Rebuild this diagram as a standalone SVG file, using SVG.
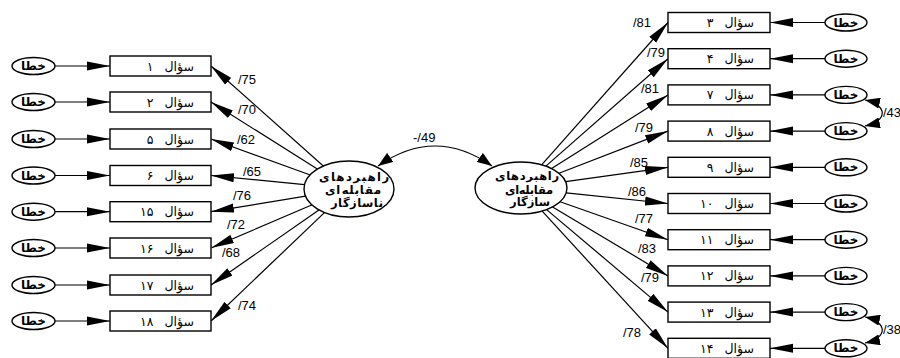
<svg xmlns="http://www.w3.org/2000/svg" width="900" height="358" viewBox="0 0 900 358">
<style>
.box{fill:#fff;stroke:#000;stroke-width:1.4}
.el{fill:#fff;stroke:#000;stroke-width:1.4}
.ln{fill:none;stroke:#000;stroke-width:1.2}
.q{font-family:"DejaVu Sans",sans-serif;font-size:12.5px;fill:#000;word-spacing:7px}
.e{font-family:"DejaVu Sans",sans-serif;font-size:12px;font-weight:bold;fill:#000}
.lt{font-family:"DejaVu Sans",sans-serif;font-size:11.5px;font-weight:bold;fill:#000;text-anchor:middle}
.n{font-family:"Liberation Sans",Arial,sans-serif;font-size:13px;fill:#000}
</style>
<defs>
<marker id="a" markerUnits="userSpaceOnUse" markerWidth="23" markerHeight="10" viewBox="0 0 23 9" refX="23" refY="4.5" orient="auto"><path d="M0,0 L23,4.5 L0,9 z" fill="#000"/></marker>
<marker id="s" markerUnits="userSpaceOnUse" markerWidth="15" markerHeight="11" viewBox="0 0 15 11" refX="15" refY="5.5" orient="auto-start-reverse"><path d="M0,0 L15,5.5 L0,11 z" fill="#000"/></marker>
</defs>

<g id="connectors">
<path class="ln" marker-end="url(#a)" d="M55,66 H110"/>
<path class="ln" marker-end="url(#a)" d="M55,102 H110"/>
<path class="ln" marker-end="url(#a)" d="M55,139 H110"/>
<path class="ln" marker-end="url(#a)" d="M55,175.5 H110"/>
<path class="ln" marker-end="url(#a)" d="M55,211.7 H110"/>
<path class="ln" marker-end="url(#a)" d="M55,248 H110"/>
<path class="ln" marker-end="url(#a)" d="M55,285 H110"/>
<path class="ln" marker-end="url(#a)" d="M55,321 H110"/>
<path class="ln" marker-end="url(#a)" d="M323.6,166.2 L211,66"/>
<path class="ln" marker-end="url(#a)" d="M317.7,169.2 L211,102"/>
<path class="ln" marker-end="url(#a)" d="M310.3,175 L211,139"/>
<path class="ln" marker-end="url(#a)" d="M304.6,184.6 L211,175.5"/>
<path class="ln" marker-end="url(#a)" d="M305.6,196.1 L211,211.7"/>
<path class="ln" marker-end="url(#a)" d="M312.2,204.8 L211,248"/>
<path class="ln" marker-end="url(#a)" d="M319.3,209.8 L211,285"/>
<path class="ln" marker-end="url(#a)" d="M324.7,212.4 L211,321"/>
<path class="ln" marker-end="url(#a)" d="M541.6,164.8 L668,22.5"/>
<path class="ln" marker-end="url(#a)" d="M545.9,166.1 L668,58.7"/>
<path class="ln" marker-end="url(#a)" d="M551.6,168.6 L668,94.9"/>
<path class="ln" marker-end="url(#a)" d="M559,173.3 L668,131.1"/>
<path class="ln" marker-end="url(#a)" d="M565.6,181.7 L668,167.3"/>
<path class="ln" marker-end="url(#a)" d="M566.2,192.8 L668,203.5"/>
<path class="ln" marker-end="url(#a)" d="M560.1,201.7 L668,239.7"/>
<path class="ln" marker-end="url(#a)" d="M552.6,206.9 L668,275.9"/>
<path class="ln" marker-end="url(#a)" d="M546.6,209.6 L668,312.1"/>
<path class="ln" marker-end="url(#a)" d="M542.2,211.1 L668,348.3"/>
<path class="ln" marker-end="url(#a)" d="M825,22.5 H770"/>
<path class="ln" marker-end="url(#a)" d="M825,58.7 H770"/>
<path class="ln" marker-end="url(#a)" d="M825,94.9 H770"/>
<path class="ln" marker-end="url(#a)" d="M825,131.1 H770"/>
<path class="ln" marker-end="url(#a)" d="M825,167.3 H770"/>
<path class="ln" marker-end="url(#a)" d="M825,203.5 H770"/>
<path class="ln" marker-end="url(#a)" d="M825,239.7 H770"/>
<path class="ln" marker-end="url(#a)" d="M825,275.9 H770"/>
<path class="ln" marker-end="url(#a)" d="M825,312.1 H770"/>
<path class="ln" marker-end="url(#a)" d="M825,348.3 H770"/>
<path class="ln" marker-start="url(#s)" marker-end="url(#s)" d="M378,166 Q435,126 492,166"/>
<path class="ln" marker-start="url(#s)" marker-end="url(#s)" d="M865,100 C888,105 888,121 865,126"/>
<path class="ln" marker-start="url(#s)" marker-end="url(#s)" d="M865,317 C888,322 888,338 865,343"/>
<text class="n" x="238" y="84">/75</text>
<text class="n" x="238" y="114">/70</text>
<text class="n" x="237" y="144">/62</text>
<text class="n" x="243" y="176">/65</text>
<text class="n" x="233" y="200">/76</text>
<text class="n" x="227" y="229">/72</text>
<text class="n" x="222" y="257">/68</text>
<text class="n" x="238" y="310">/74</text>
<text class="n" x="633" y="27">/81</text>
<text class="n" x="647" y="57">/79</text>
<text class="n" x="641" y="93">/81</text>
<text class="n" x="635" y="132">/79</text>
<text class="n" x="630" y="167">/85</text>
<text class="n" x="628" y="196">/86</text>
<text class="n" x="635" y="223">/77</text>
<text class="n" x="638" y="253">/83</text>
<text class="n" x="641" y="282">/79</text>
<text class="n" x="623" y="337">/78</text>
<text class="n" x="413" y="142">-/49</text>
<text class="n" x="883" y="117">/43</text>
<text class="n" x="883" y="334">/38</text>
</g>

<g id="latent-left"><ellipse class="el" cx="349" cy="189" rx="45" ry="28"/>
<text class="lt" x="354" y="180.5" textLength="70" lengthAdjust="spacing">راهبردهای</text><text class="lt" x="353" y="194" textLength="56" lengthAdjust="spacing">مقابله‌ای</text><text class="lt" x="357" y="206.5" textLength="52" lengthAdjust="spacing">ناسازگار</text></g>
<g id="latent-right"><ellipse class="el" cx="521" cy="188" rx="46" ry="26"/>
<text class="lt" x="527" y="180" textLength="64" lengthAdjust="spacing">راهبردهای</text><text class="lt" x="529" y="193.5" textLength="48" lengthAdjust="spacing">مقابله‌ای</text><text class="lt" x="530" y="206" textLength="40" lengthAdjust="spacing">سازگار</text></g>

<g id="q1"><rect class="box" x="110" y="56" width="101" height="20"/><text class="q" x="194" y="70.5" direction="rtl">سؤال ۱</text></g>
<g id="q2"><rect class="box" x="110" y="92" width="101" height="20"/><text class="q" x="194" y="106.5" direction="rtl">سؤال ۲</text></g>
<g id="q5"><rect class="box" x="110" y="129" width="101" height="20"/><text class="q" x="194" y="143.5" direction="rtl">سؤال ۵</text></g>
<g id="q6"><rect class="box" x="110" y="165.5" width="101" height="20"/><text class="q" x="194" y="180" direction="rtl">سؤال ۶</text></g>
<g id="q15"><rect class="box" x="110" y="201.7" width="101" height="20"/><text class="q" x="194" y="216.2" direction="rtl">سؤال ۱۵</text></g>
<g id="q16"><rect class="box" x="110" y="238" width="101" height="20"/><text class="q" x="194" y="252.5" direction="rtl">سؤال ۱۶</text></g>
<g id="q17"><rect class="box" x="110" y="275" width="101" height="20"/><text class="q" x="194" y="289.5" direction="rtl">سؤال ۱۷</text></g>
<g id="q18"><rect class="box" x="110" y="311" width="101" height="20"/><text class="q" x="194" y="325.5" direction="rtl">سؤال ۱۸</text></g>

<g id="q3"><rect class="box" x="668" y="12.5" width="102" height="20"/><text class="q" x="754" y="27" direction="rtl">سؤال ۳</text></g>
<g id="q4"><rect class="box" x="668" y="48.7" width="102" height="20"/><text class="q" x="754" y="63.2" direction="rtl">سؤال ۴</text></g>
<g id="q7"><rect class="box" x="668" y="84.9" width="102" height="20"/><text class="q" x="754" y="99.4" direction="rtl">سؤال ۷</text></g>
<g id="q8"><rect class="box" x="668" y="121.1" width="102" height="20"/><text class="q" x="754" y="135.6" direction="rtl">سؤال ۸</text></g>
<g id="q9"><rect class="box" x="668" y="157.3" width="102" height="20"/><text class="q" x="754" y="171.8" direction="rtl">سؤال ۹</text></g>
<g id="q10"><rect class="box" x="668" y="193.5" width="102" height="20"/><text class="q" x="754" y="208" direction="rtl">سؤال ۱۰</text></g>
<g id="q11"><rect class="box" x="668" y="229.7" width="102" height="20"/><text class="q" x="754" y="244.2" direction="rtl">سؤال ۱۱</text></g>
<g id="q12"><rect class="box" x="668" y="265.9" width="102" height="20"/><text class="q" x="754" y="280.4" direction="rtl">سؤال ۱۲</text></g>
<g id="q13"><rect class="box" x="668" y="302.1" width="102" height="20"/><text class="q" x="754" y="316.6" direction="rtl">سؤال ۱۳</text></g>
<g id="q14"><rect class="box" x="668" y="338.3" width="102" height="20"/><text class="q" x="754" y="352.8" direction="rtl">سؤال ۱۴</text></g>

<g id="e-l1"><ellipse class="el" cx="33.5" cy="66" rx="21.5" ry="8.5"/><text class="e" x="33.5" y="70" text-anchor="middle">خطا</text></g>
<g id="e-l2"><ellipse class="el" cx="33.5" cy="102" rx="21.5" ry="8.5"/><text class="e" x="33.5" y="106" text-anchor="middle">خطا</text></g>
<g id="e-l5"><ellipse class="el" cx="33.5" cy="139" rx="21.5" ry="8.5"/><text class="e" x="33.5" y="143" text-anchor="middle">خطا</text></g>
<g id="e-l6"><ellipse class="el" cx="33.5" cy="175.5" rx="21.5" ry="8.5"/><text class="e" x="33.5" y="179.5" text-anchor="middle">خطا</text></g>
<g id="e-l15"><ellipse class="el" cx="33.5" cy="211.7" rx="21.5" ry="8.5"/><text class="e" x="33.5" y="215.7" text-anchor="middle">خطا</text></g>
<g id="e-l16"><ellipse class="el" cx="33.5" cy="248" rx="21.5" ry="8.5"/><text class="e" x="33.5" y="252" text-anchor="middle">خطا</text></g>
<g id="e-l17"><ellipse class="el" cx="33.5" cy="285" rx="21.5" ry="8.5"/><text class="e" x="33.5" y="289" text-anchor="middle">خطا</text></g>
<g id="e-l18"><ellipse class="el" cx="33.5" cy="321" rx="21.5" ry="8.5"/><text class="e" x="33.5" y="325" text-anchor="middle">خطا</text></g>

<g id="e-r3"><ellipse class="el" cx="846" cy="22.5" rx="21" ry="8.5"/><text class="e" x="846" y="26.5" text-anchor="middle">خطا</text></g>
<g id="e-r4"><ellipse class="el" cx="846" cy="58.7" rx="21" ry="8.5"/><text class="e" x="846" y="62.7" text-anchor="middle">خطا</text></g>
<g id="e-r7"><ellipse class="el" cx="846" cy="94.9" rx="21" ry="8.5"/><text class="e" x="846" y="98.9" text-anchor="middle">خطا</text></g>
<g id="e-r8"><ellipse class="el" cx="846" cy="131.1" rx="21" ry="8.5"/><text class="e" x="846" y="135.1" text-anchor="middle">خطا</text></g>
<g id="e-r9"><ellipse class="el" cx="846" cy="167.3" rx="21" ry="8.5"/><text class="e" x="846" y="171.3" text-anchor="middle">خطا</text></g>
<g id="e-r10"><ellipse class="el" cx="846" cy="203.5" rx="21" ry="8.5"/><text class="e" x="846" y="207.5" text-anchor="middle">خطا</text></g>
<g id="e-r11"><ellipse class="el" cx="846" cy="239.7" rx="21" ry="8.5"/><text class="e" x="846" y="243.7" text-anchor="middle">خطا</text></g>
<g id="e-r12"><ellipse class="el" cx="846" cy="275.9" rx="21" ry="8.5"/><text class="e" x="846" y="279.9" text-anchor="middle">خطا</text></g>
<g id="e-r13"><ellipse class="el" cx="846" cy="312.1" rx="21" ry="8.5"/><text class="e" x="846" y="316.1" text-anchor="middle">خطا</text></g>
<g id="e-r14"><ellipse class="el" cx="846" cy="348.3" rx="21" ry="8.5"/><text class="e" x="846" y="352.3" text-anchor="middle">خطا</text></g>
</svg>
